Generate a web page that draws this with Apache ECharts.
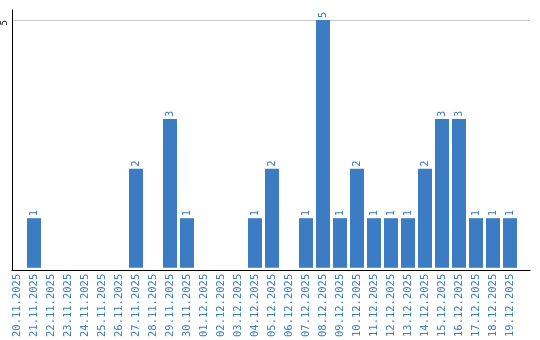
<!DOCTYPE html>
<html>
<head>
<meta charset="utf-8">
<script src="https://cdn.jsdelivr.net/npm/echarts@6/dist/echarts.min.js"></script>
<style>html,body{margin:0;padding:0;background:#fff;}#c{width:540px;height:340px;}</style>
</head>
<body>
<div id="c"></div>
<script>
const categories = ['20.11.2025','21.11.2025','22.11.2025','23.11.2025','24.11.2025','25.11.2025','26.11.2025','27.11.2025','28.11.2025','29.11.2025','30.11.2025','01.12.2025','02.12.2025','03.12.2025','04.12.2025','05.12.2025','06.12.2025','07.12.2025','08.12.2025','09.12.2025','10.12.2025','11.12.2025','12.12.2025','13.12.2025','14.12.2025','15.12.2025','16.12.2025','17.12.2025','18.12.2025','19.12.2025'];
const values = [0,1,0,0,0,0,0,2,0,3,1,0,0,0,1,2,0,1,5,1,2,1,1,1,2,3,3,1,1,1];
const yTicks = [5];

const blue = '#3b7cc2';
const mono = "'DejaVu Sans Mono', 'Liberation Mono', monospace";
const chart = echarts.init(document.getElementById('c'), null, {renderer: 'canvas'});
chart.setOption({
  animation: false,
  grid: [
    {left: 10, right: 10, top: 10, bottom: 70},
    {left: 8.5, right: 21.5, top: 10, bottom: 70}
  ],
  xAxis: [
    {gridIndex: 0, type: 'category', data: categories, axisLine: {show: true, lineStyle: {color: '#000', width: 1}}, axisTick: {show: false}, axisLabel: {show: false}, splitLine: {show: false}},
    {gridIndex: 1, type: 'category', data: categories, axisLine: {show: false}, axisTick: {show: false},
      axisLabel: {interval: 0, rotate: 90, margin: 6, color: blue, fontFamily: mono, fontSize: 10.5}}
  ],
  yAxis: [
    {gridIndex: 0, type: 'value', min: 0, max: 5.2, interval: 5,
      axisLine: {show: true, lineStyle: {color: '#000', width: 1}}, axisTick: {show: false},
      axisLabel: {rotate: 90, margin: 3, fontSize: 9, color: '#000', fontFamily: mono,
        align: 'right', verticalAlign: 'bottom',
        formatter: v => yTicks.indexOf(v) >= 0 ? String(v) : ''},
      splitLine: {show: true, lineStyle: {color: ['rgba(0,0,0,0)', '#c8c8c8', 'rgba(0,0,0,0)'], width: 1}}},
    {gridIndex: 1, type: 'value', min: 0, max: 5.2, show: false}
  ],
  series: [{
    type: 'bar', xAxisIndex: 1, yAxisIndex: 1, data: values, barWidth: 14,
    itemStyle: {color: blue},
    label: {show: true, position: 'top', rotate: 90, align: 'left', verticalAlign: 'middle', distance: 2,
      color: blue, fontFamily: mono, fontSize: 10.5,
      formatter: p => p.value > 0 ? String(p.value) : ''}
  }]
});
</script>
</body>
</html>
